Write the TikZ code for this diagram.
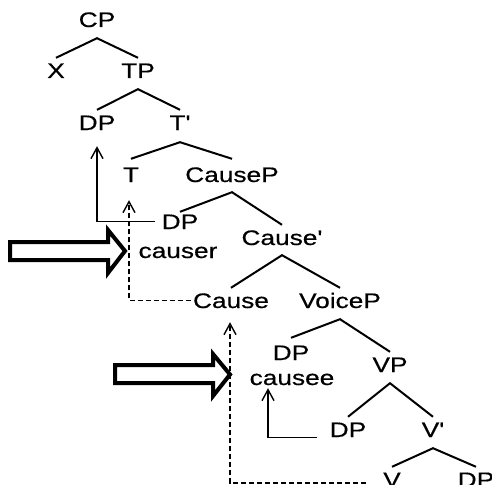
\documentclass[tikz,border=0pt]{standalone}
\usepackage{fontspec}
\setmainfont{Liberation Sans}[FakeStretch=1.25,FakeBold=0.5,Ligatures=TeXOff]
\usetikzlibrary{arrows.meta}
\begin{document}
\begin{tikzpicture}[x=1pt,y=-1pt,
  lbl/.style={anchor=base,inner sep=0pt,text height=15pt,text depth=0pt,font=\fontsize{21}{25}\selectfont},
  branch/.style={line width=2pt},
  mv/.style={line width=1.4pt,-{Straight Barb[length=11pt,width=12pt,line width=1.4pt]}},
  mvd/.style={mv,dash pattern=on 5pt off 3pt},
  blk/.style={line width=4pt,draw=black,fill=white,line join=miter}]
\useasboundingbox (0,0) rectangle (492,484);
\clip (0,0) rectangle (492,484);
% labels
\node[lbl] (CP) at (97,27) {CP};
\node[lbl] (X) at (56,78) {X};
\node[lbl] (TP) at (138,78) {TP};
\node[lbl] (DPa) at (97,130) {DP};
\node[lbl] (Tbar) at (180,130) {T'};
\node[lbl] (T) at (131,182) {T};
\node[lbl] (CauseP) at (232,182) {CauseP};
\node[lbl] (DPb) at (180,229) {DP};
\node[lbl] (causer) at (178,258) {causer};
\node[lbl] (Causebar) at (282,245) {Cause'};
\node[lbl] (Cause) at (231,308) {Cause};
\node[lbl] (VoiceP) at (340,308) {VoiceP};
\node[lbl] (DPc) at (291,360) {DP};
\node[lbl] (VP) at (390,372) {VP};
\node[lbl] (causee) at (292,385) {causee};
\node[lbl] (DPd) at (348,437) {DP};
\node[lbl] (Vbar) at (433,437) {V'};
\node[lbl] (V) at (392,487) {V};
\node[lbl] (DPe) at (476,487) {DP};
% branches
\draw[branch] ([yshift=5pt]X.north) -- ([yshift=-11pt]CP.south) -- ([yshift=5pt]TP.north);
\draw[branch] ([yshift=5pt]DPa.north) -- ([yshift=-11pt]TP.south) -- ([yshift=5pt]Tbar.north);
\draw[branch] ([yshift=8pt]T.north) -- ([yshift=-12pt]Tbar.south) -- ([yshift=8pt]CauseP.north);
\draw[branch] ([yshift=2pt]DPb.north) -- ([yshift=-10pt]CauseP.south) -- ([yshift=5pt]Causebar.north);
\draw[branch] ([yshift=5pt]Cause.north) -- ([yshift=-10pt]Causebar.south) -- ([yshift=5pt]VoiceP.north);
\draw[branch] ([yshift=7pt]DPc.north) -- ([yshift=-11pt]VoiceP.south) -- ([yshift=5pt]VP.north);
\draw[branch] ([yshift=5pt]DPd.north) -- ([yshift=-11pt]VP.south) -- ([yshift=5pt]Vbar.north);
\draw[branch] ([yshift=5pt]V.north) -- ([yshift=-11pt]Vbar.south) -- ([yshift=5pt]DPe.north);
% movement arrows
\draw[mv] ([xshift=-7pt]DPb.west) -| ([yshift=-16pt]DPa.south);
\draw[mvd] ([xshift=-2pt]Cause.west) -| ([xshift=-2pt,yshift=-18pt]T.south);
\draw[mvd] ([xshift=-17pt,yshift=-3.5pt]V.west) -| ([xshift=-1pt,yshift=-14pt]Cause.south);
\draw[mv] ([xshift=-13pt]DPd.south west) -| ([xshift=-24pt,yshift=-3pt]causee.south);
% block arrows
\draw[blk] (10,242) -- (108,242) -- (108,230) -- (125,251) -- (108,273) -- (108,260) -- (10,260) -- cycle;
\draw[blk] (115,365) -- (213,365) -- (213,354) -- (230,374.5) -- (213,396) -- (213,383) -- (115,383) -- cycle;
\end{tikzpicture}
\end{document}
